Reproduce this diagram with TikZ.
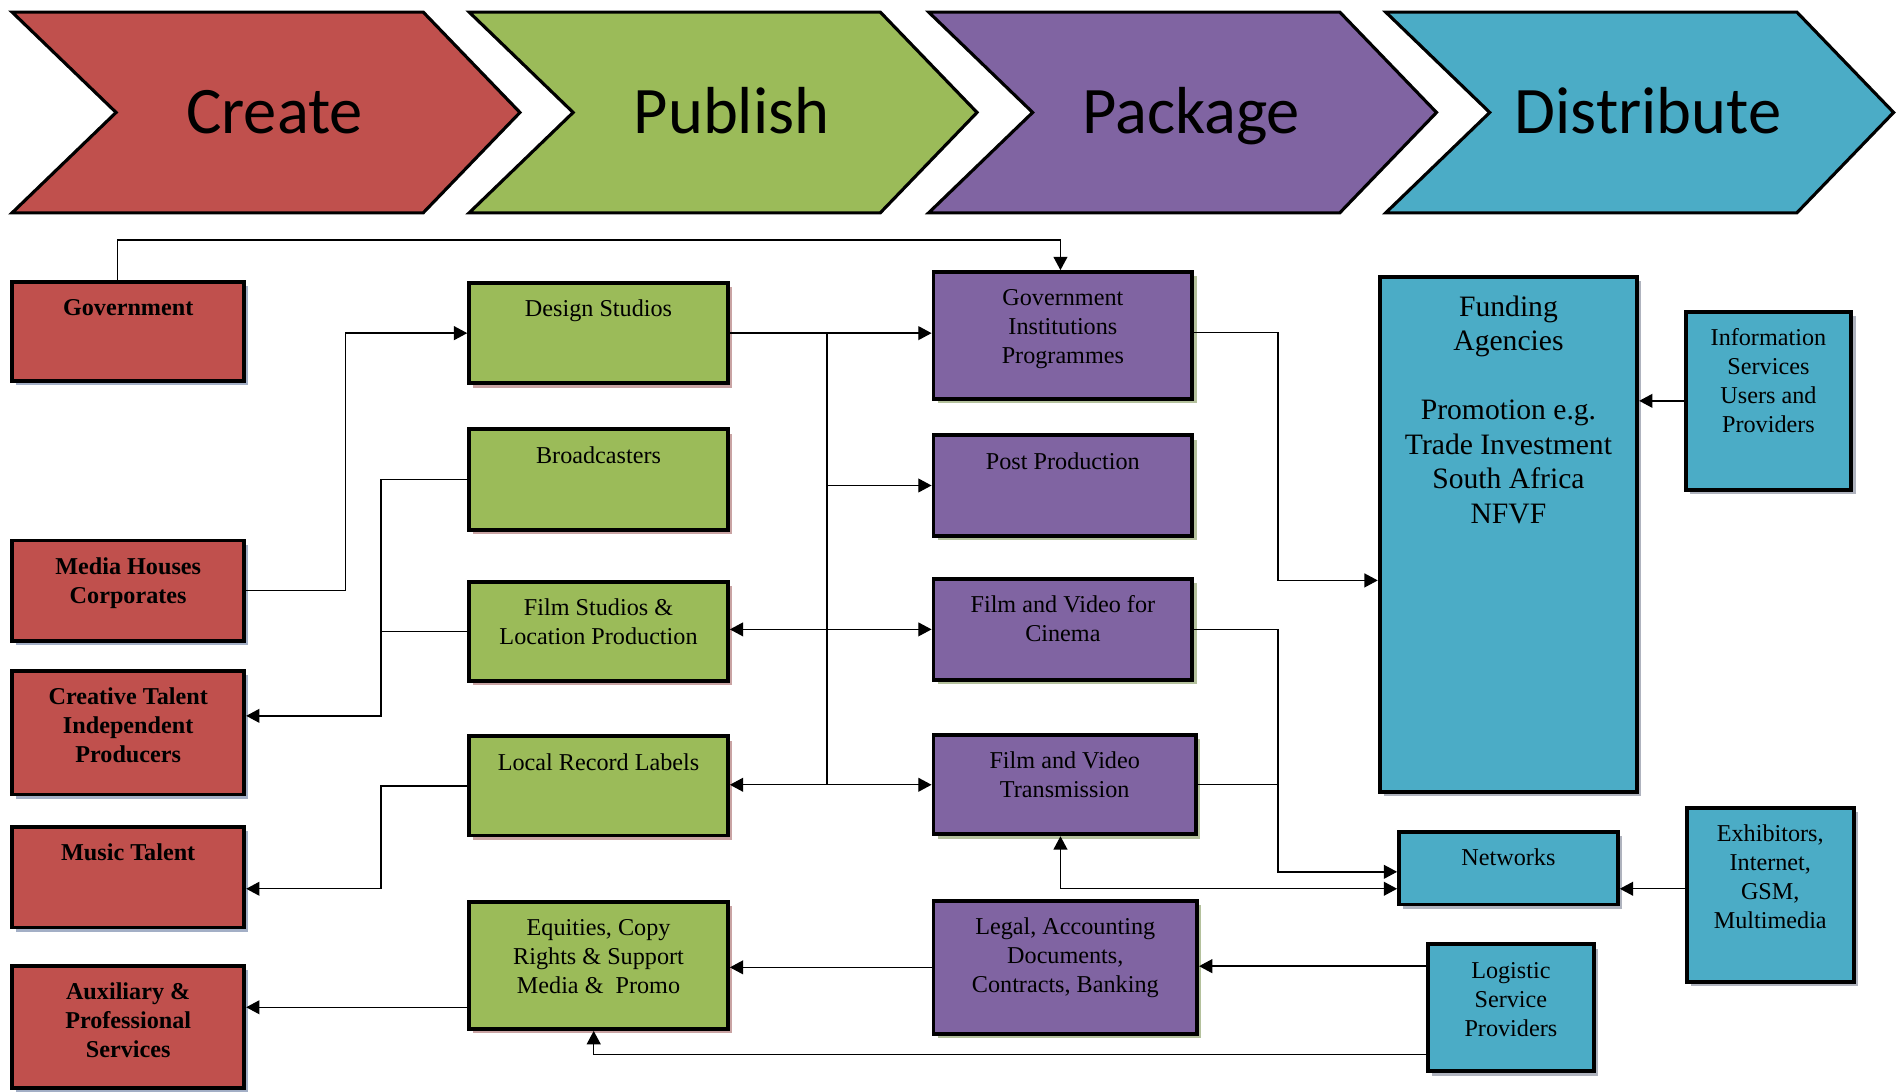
\documentclass[tikz,border=0pt]{standalone}
\usepackage{fontspec}
\setmainfont{Liberation Serif}
\newfontfamily\chevfont{Carlito}
\usetikzlibrary{arrows.meta,shadows}

\definecolor{crred}{HTML}{C0504D}
\definecolor{crgreen}{HTML}{9BBB59}
\definecolor{crpurple}{HTML}{8064A2}
\definecolor{crblue}{HTML}{4BACC6}
\definecolor{shred}{HTML}{A3AFC6}
\definecolor{shgreen}{HTML}{C9A3A3}
\definecolor{shpurple}{HTML}{B4C19C}
\definecolor{shblue}{HTML}{AFB3BE}

\tikzset{
  conn/.style={line width=1.1pt},
  tip/.style={-{Triangle[length=11pt,width=11.5pt]}},
  tips/.style={{Triangle[length=11pt,width=11.5pt]}-{Triangle[length=11pt,width=11.5pt]}},
  chevron/.style={draw,line width=2.6pt,line join=miter},
  stage/.style={anchor=base,font=\chevfont\fontsize{55}{60}\selectfont},
  box/.style={draw,line width=3.2pt,inner sep=0pt,
    drop shadow={shadow xshift=3.5pt,shadow yshift=-3.5pt,fill=#1,opacity=1}},
  lbl/.style={anchor=north,align=center,inner sep=0pt,yshift=-12.5pt,
    font=\fontsize{20}{24}\selectfont},
  txt/.style={label={[lbl]north:\strut#1}},
  crtxt/.style={label={[lbl,font=\fontsize{20}{24}\selectfont\bfseries]north:\strut#1}},
  bigtxt/.style={label={[lbl,yshift=-1.5pt,font=\fontsize{24.5}{28.5}\selectfont]north:\strut#1}},
  crbox/.style={box=shred,fill=crred,minimum width=192pt},
  pubox/.style={box=shgreen,fill=crgreen,minimum width=214pt},
  pabox/.style={box=shpurple,fill=crpurple,minimum width=214pt},
  dibox/.style={box=shblue,fill=crblue}
}

\begin{document}
\begin{tikzpicture}[x=1pt,y=-1pt]
\useasboundingbox (0,0) rectangle (1568,903);

% stage arrows
\foreach \x/\col/\word in {10/crred/Create,388/crgreen/Publish,768/crpurple/Package,1146/crblue/Distribute}{
  \draw[chevron,fill=\col] (\x,10) -- (\x+340,10) -- (\x+420,93) -- (\x+340,176)
    -- (\x,176) -- (\x+86,93) -- cycle;
  \node[stage] (\word) at (\x+217,110) {\word};
}

% create
\node[crbox,minimum height=82pt,crtxt=Government] (gov) at (106,274) {};
\node[crbox,minimum height=83pt,crtxt={Media Houses\\Corporates}] (media) at (106,488.5) {};
\node[crbox,minimum height=102pt,crtxt={Creative Talent\\Independent\\Producers}] (talent) at (106,606) {};
\node[crbox,minimum height=83pt,crtxt={Music Talent}] (music) at (106,725.5) {};
\node[crbox,minimum height=101pt,crtxt={Auxiliary \&\\Professional\\Services}] (aux) at (106,849.5) {};

% publish
\node[pubox,minimum height=83pt,txt={Design Studios}] (design) at (495,275.5) {};
\node[pubox,minimum height=83pt,txt=Broadcasters] (broad) at (495,396.5) {};
\node[pubox,minimum height=82pt,txt={Film Studios \&\\Location Production}] (studio) at (495,522) {};
\node[pubox,minimum height=82pt,txt={Local Record Labels}] (record) at (495,650) {};
\node[pubox,minimum height=105pt,txt={Equities, Copy\\Rights \& Support\\Media \&~~Promo}] (rights) at (495,798.5) {};

% package
\node[pabox,minimum height=105pt,txt={Government\\Institutions\\Programmes}] (gip) at (879,277.5) {};
\node[pabox,minimum height=83pt,txt={Post Production}] (post) at (879,401.5) {};
\node[pabox,minimum height=83pt,txt={Film and Video for\\Cinema}] (cinema) at (879,520.5) {};
\node[pabox,minimum width=217pt,minimum height=82pt,txt={Film and Video\\Transmission}] (trans) at (880.5,649) {};
\node[pabox,minimum width=218pt,minimum height=110pt,txt={Legal, Accounting\\Documents,\\Contracts, Banking}] (legal) at (881,800) {};

% distribute
\node[dibox,minimum width=213pt,minimum height=426pt,
  bigtxt={Funding\\Agencies\\[28.5pt]Promotion e.g.\\Trade Investment\\South Africa\\NFVF}] (fund) at (1247.5,442) {};
\node[dibox,minimum width=137pt,minimum height=147pt,txt={Information\\Services\\Users and\\Providers}] (info) at (1462.5,331.5) {};
\node[dibox,minimum width=181pt,minimum height=60pt,txt=Networks] (net) at (1247.5,718) {};
\node[dibox,minimum width=138pt,minimum height=144pt,txt={Exhibitors,\\Internet,\\GSM,\\Multimedia}] (exhib) at (1464,740) {};
\node[dibox,minimum width=137pt,minimum height=105pt,txt={Logistic\\Service\\Providers}] (logis) at (1249.5,833.5) {};

% bus lines
\coordinate (lbus) at (315,0);
\coordinate (bus) at (684,0);
\coordinate (rbus) at (1057,0);

\draw[conn,tip] ([xshift=-9pt]gov.north) -- ++(0,-33) -| ([xshift=-2pt]gip.north);
\draw[conn,tip] (media.east) -- ++(82,0) |- (design.west);
\draw[conn,tip] (design.east) -- (design.east -| gip.west);
\draw[conn] (design.east -| bus) -- (trans.west -| bus);
\draw[conn,tip] (post.west -| bus) -- (post.west);
\draw[conn,tips] (cinema.west -| studio.east) -- (cinema.west);
\draw[conn,tips] (trans.west -| record.east) -- (trans.west);

\draw[conn,tip] (broad.west) -- (broad.west -| lbus) |- ([yshift=14pt]talent.east);
\draw[conn] (studio.west) -- (studio.west -| lbus);
\draw[conn,tip] (record.west) -- (record.west -| lbus) |- ([yshift=-9.5pt]music.east);
\draw[conn,tip] ([yshift=-34.5pt]rights.west) -- ([yshift=-34.5pt]rights.west -| aux.east);
\draw[conn,tip] (legal.west) -- (legal.west -| rights.east);
\draw[conn,tip] ([yshift=34.5pt]logis.west) -- ([yshift=34.5pt]logis.west -| legal.east);
\draw[conn,tip] ([yshift=-38.5pt]logis.west) -| ([xshift=-4pt]rights.south);

\draw[conn,tip] ([yshift=2.5pt]gip.east) -- ([yshift=2.5pt]gip.east -| rbus) |- ([yshift=-38pt]fund.west);
\draw[conn,tip] (cinema.east) -- (cinema.east -| rbus) |- ([yshift=-3pt]net.west);
\draw[conn] (trans.east) -- (trans.east -| rbus);
\draw[conn,tips] ([xshift=-3.5pt]trans.south) |- ([yshift=-17pt]net.west);
\draw[conn,tip] (info.west) -- (info.west -| fund.east);
\draw[conn,tip] ([yshift=5pt]exhib.west) -- ([yshift=5pt]exhib.west -| net.east);
\end{tikzpicture}
\end{document}
